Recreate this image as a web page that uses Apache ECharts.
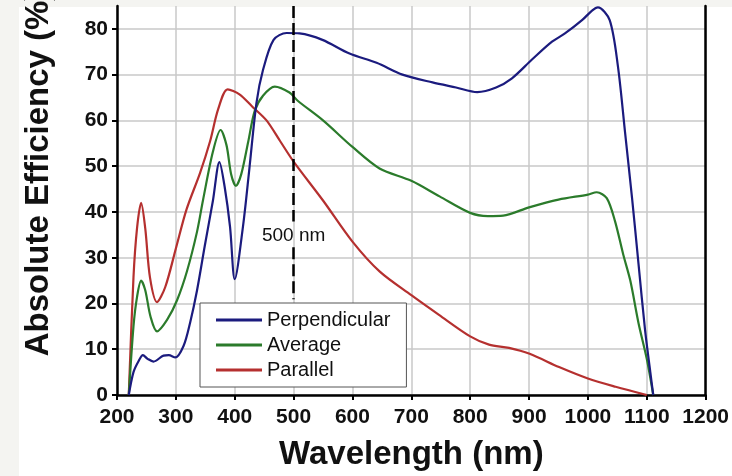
<!DOCTYPE html>
<html>
<head>
<meta charset="utf-8">
<script src="https://cdn.jsdelivr.net/npm/echarts@6/dist/echarts.min.js"></script>
<style>
html,body{margin:0;padding:0;background:#fff;}
#chart{width:732px;height:476px;}
</style>
</head>
<body>
<div id="chart"></div>
<script>
// ---- data ----
const seriesNames = ['Perpendicular', 'Average', 'Parallel'];

const perpWl  = [220, 228, 237, 244, 252, 262, 279, 288, 299, 313, 324, 336, 349, 363, 374, 383, 392, 400, 414, 425, 437, 448, 466, 488, 510, 549, 595, 641, 685, 736, 776, 812, 844, 871, 905, 939, 961, 990, 1007, 1017, 1037, 1051, 1063, 1075, 1086, 1097, 1106, 1111];
const perpVal = [0, 5, 7.5, 8.7, 7.9, 7.3, 8.6, 8.7, 8.2, 10.7, 15.7, 22.9, 32.5, 42.5, 50.9, 45.4, 36.8, 25.3, 36.8, 49.6, 63.9, 71, 77.6, 79.1, 79, 77.6, 74.6, 72.6, 70, 68.3, 67.2, 66.2, 67.2, 69.2, 73.3, 77.2, 79, 81.9, 84, 84.7, 81.9, 71.8, 57.5, 43, 28.6, 14.3, 5, 0];

const avgWl  = [220, 228, 234, 241, 248, 257, 268, 285, 302, 319, 336, 346, 363, 376, 386, 394, 402, 411, 423, 434, 448, 468, 493, 507, 550, 600, 646, 700, 748, 800, 830, 856, 900, 950, 1000, 1015, 1032, 1046, 1060, 1072, 1086, 1100, 1111];
const avgVal = [0, 15, 21.4, 25, 22.9, 17.1, 13.9, 16.4, 20.7, 27.1, 35.7, 42.5, 53.2, 57.9, 54.6, 48.2, 45.7, 48.2, 55.4, 62.1, 65.4, 67.4, 66.1, 64.3, 60, 54.2, 49.5, 46.8, 43.4, 39.8, 39.1, 39.2, 41, 42.7, 43.8, 44.3, 43, 38, 30.7, 25, 15.7, 7.9, 0];

const parWl  = [220, 228, 234, 241, 248, 256, 268, 282, 300, 318, 341, 358, 372, 388, 408, 430, 454, 477, 500, 550, 600, 646, 700, 747, 800, 832, 866, 901, 951, 1000, 1047, 1100];
const parVal = [0, 25.7, 36.4, 42, 36.4, 25.7, 20.3, 23.6, 32, 40.5, 48.5, 55.4, 62.5, 66.8, 65.7, 63, 60, 55.5, 51, 42.5, 33.5, 27, 21.8, 17.5, 12.8, 11, 10.3, 9, 6.1, 3.6, 1.8, 0];

const xTicks = {min: 200, max: 1200, step: 100};
const yTicks = {min: 0, max: 85, step: 10};

const markerWl = 500;
const markerText = '500 nm';
const markerSegments = [[85, 37.9], [32.3, 20.9]];
const markerLabelValue = 34.8;

// ---- chart ----
const FONT = '"Liberation Sans", Arial, sans-serif';
const colors = ['#1b1b7e', '#2b7b2b', '#b5302f'];
const zip = (a, b) => a.map((v, i) => [v, b[i]]);
const allData = [zip(perpWl, perpVal), zip(avgWl, avgVal), zip(parWl, parVal)];

const chart = echarts.init(document.getElementById('chart'), null, {renderer: 'canvas'});

const series = seriesNames.map((name, i) => ({
  name: name,
  type: 'line',
  data: allData[i],
  showSymbol: false,
  smooth: 0.3,
  lineStyle: {color: colors[i], width: 2.2},
  itemStyle: {color: colors[i]},
  z: 3 - i
}));

series[0].markLine = {
  silent: true,
  symbol: 'none',
  lineStyle: {color: '#000', width: 2.5, type: [12, 5]},
  label: {show: false},
  data: markerSegments.map(s => [{coord: [markerWl, s[0]]}, {coord: [markerWl, s[1]]}])
};
series[0].markPoint = {
  silent: true,
  symbol: 'circle',
  symbolSize: 0,
  label: {show: true, position: 'inside', formatter: markerText, fontFamily: FONT, fontSize: 19, color: '#111'},
  data: [{coord: [markerWl, markerLabelValue]}]
};

const option = {
  backgroundColor: '#fff',
  animation: false,
  grid: {left: 117, right: 25, top: 6, bottom: 76, containLabel: false},
  graphic: [
    {type: 'rect', z: -10, shape: {x: 0, y: 0, width: 19, height: 476}, style: {fill: '#f4f4f1'}},
    {type: 'rect', z: -10, shape: {x: 0, y: 0, width: 732, height: 7}, style: {fill: '#f4f4f1'}},
    {type: 'text', x: 39, y: 173, rotation: Math.PI / 2,
     style: {text: 'Absolute Efficiency (%)', font: 'bold 33px ' + FONT, fill: '#111', textAlign: 'center', textVerticalAlign: 'middle'}}
  ],
  legend: {
    data: seriesNames,
    orient: 'vertical',
    left: 200,
    top: 303,
    padding: [7, 16, 7, 16],
    itemGap: 5,
    itemWidth: 46,
    itemHeight: 3,
    icon: 'rect',
    backgroundColor: '#fff',
    borderColor: '#555',
    borderWidth: 1,
    textStyle: {fontFamily: FONT, fontSize: 20, color: '#111'}
  },
  xAxis: {
    type: 'value',
    min: xTicks.min, max: xTicks.max, interval: xTicks.step,
    name: 'Wavelength (nm)',
    nameLocation: 'middle',
    nameGap: 43,
    nameTextStyle: {fontFamily: FONT, fontSize: 33, fontWeight: 'bold', color: '#111'},
    axisLine: {lineStyle: {color: '#000', width: 2.5}},
    axisTick: {show: true, inside: false, length: 5, lineStyle: {color: '#000', width: 2}},
    axisLabel: {fontFamily: FONT, fontSize: 21, fontWeight: 'bold', color: '#111', margin: 12, formatter: v => String(v)},
    splitLine: {show: true, lineStyle: {color: '#c8c8c8', width: 1.5}}
  },
  yAxis: [{
    type: 'value',
    min: yTicks.min, max: yTicks.max, interval: yTicks.step,
    axisLine: {show: true, lineStyle: {color: '#000', width: 2.5}},
    axisTick: {show: true, inside: false, length: 5, lineStyle: {color: '#000', width: 2}},
    axisLabel: {fontFamily: FONT, fontSize: 21, fontWeight: 'bold', color: '#111', margin: 9, showMaxLabel: false, formatter: v => String(v)},
    splitLine: {show: true, showMaxLine: false, lineStyle: {color: '#c8c8c8', width: 1.5}}
  }, {
    type: 'value',
    position: 'right',
    min: yTicks.min, max: yTicks.max, interval: yTicks.step,
    axisLine: {show: true, lineStyle: {color: '#000', width: 2.5}},
    axisTick: {show: false},
    axisLabel: {show: false},
    splitLine: {show: false}
  }],
  series: series
};

chart.setOption(option);
</script>
</body>
</html>
